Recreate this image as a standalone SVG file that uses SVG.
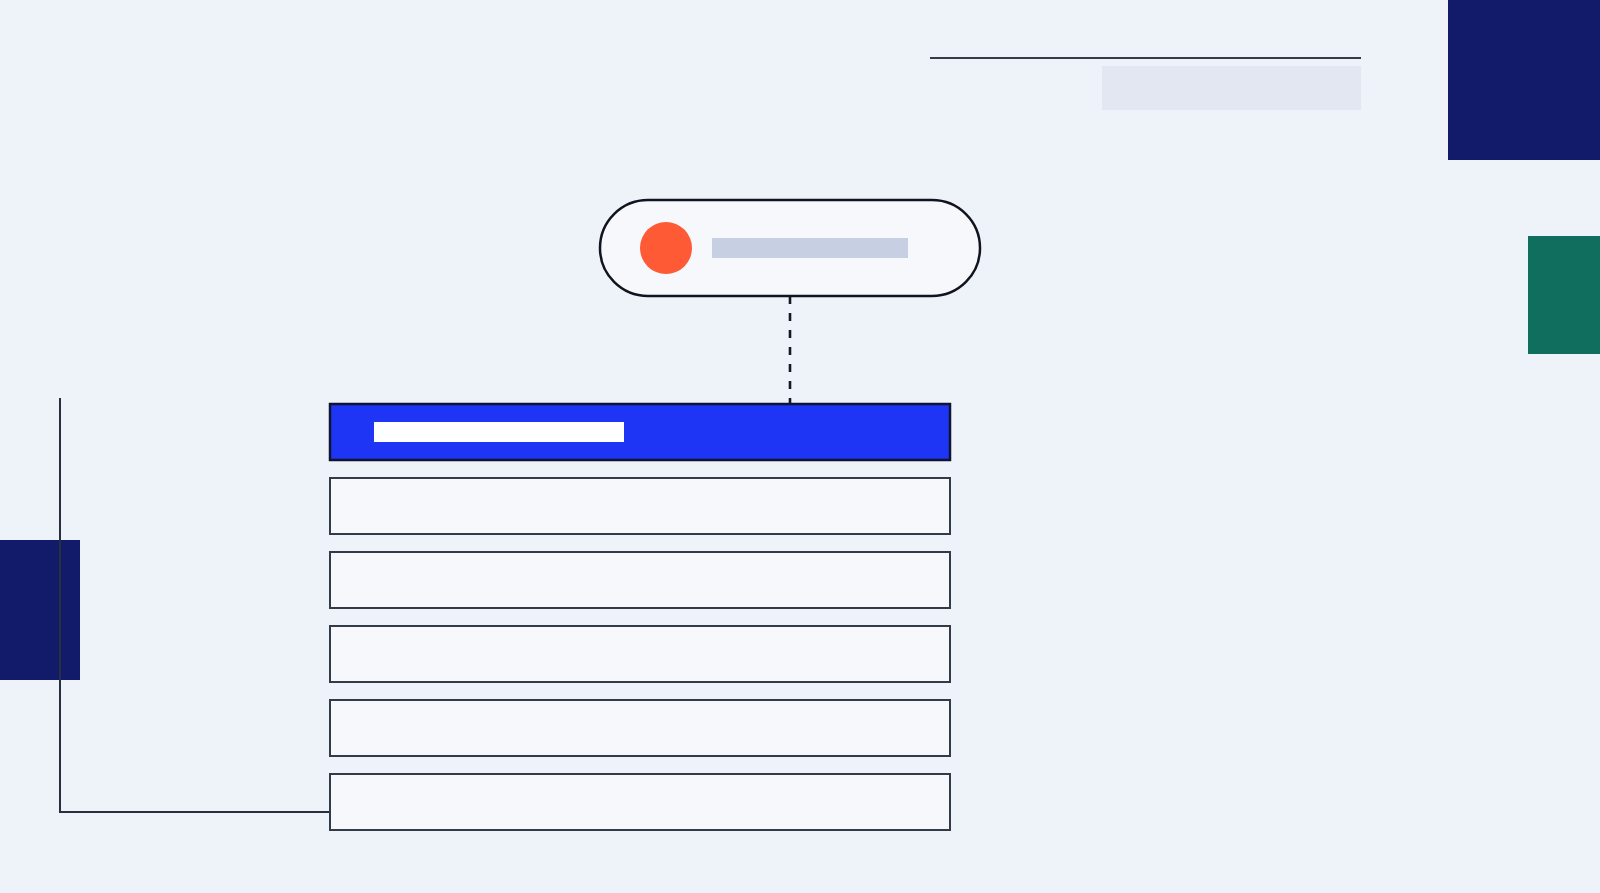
<svg xmlns="http://www.w3.org/2000/svg" width="1600" height="893" viewBox="0 0 1600 893">
  <style>
    .row { fill: #F7F8FC; stroke: #333A48; stroke-width: 2; }
    .conn { fill: none; stroke: #2A2F3D; stroke-width: 2; }
  </style>
  <rect x="0" y="0" width="1600" height="893" fill="#EEF2F9"/>
  <g id="decor">
    <rect x="1448" y="0" width="152" height="160" fill="#121B69"/>
    <rect x="1528" y="236" width="72" height="118" fill="#0F6E5E"/>
    <rect x="0" y="540" width="80" height="140" fill="#121B69"/>
    <line x1="930" y1="58" x2="1361" y2="58" stroke="#363B4A" stroke-width="2"/>
    <rect x="1102" y="66" width="259" height="44" fill="#E3E7F2"/>
  </g>
  <g id="connectors">
    <line x1="790" y1="296" x2="790" y2="404" stroke="#141826" stroke-width="2.6" stroke-dasharray="8 9"/>
    <polyline class="conn" points="60,398 60,812 330,812"/>
  </g>
  <g id="pill">
    <rect x="600" y="200" width="380" height="96" rx="48" ry="48" fill="#F7F8FC" stroke="#11131F" stroke-width="2.5"/>
    <circle cx="666" cy="248" r="26" fill="#FF5A36"/>
    <rect x="712" y="238" width="196" height="20" fill="#C7D0E2"/>
  </g>
  <g id="row-header">
    <rect x="330" y="404" width="620" height="56" fill="#1F35F5" stroke="#0F1430" stroke-width="2.5"/>
    <rect x="374" y="422" width="250" height="20" fill="#FFFFFF"/>
  </g>
  <g id="row-2"><rect class="row" x="330" y="478" width="620" height="56"/></g>
  <g id="row-3"><rect class="row" x="330" y="552" width="620" height="56"/></g>
  <g id="row-4"><rect class="row" x="330" y="626" width="620" height="56"/></g>
  <g id="row-5"><rect class="row" x="330" y="700" width="620" height="56"/></g>
  <g id="row-6"><rect class="row" x="330" y="774" width="620" height="56"/></g>
</svg>
